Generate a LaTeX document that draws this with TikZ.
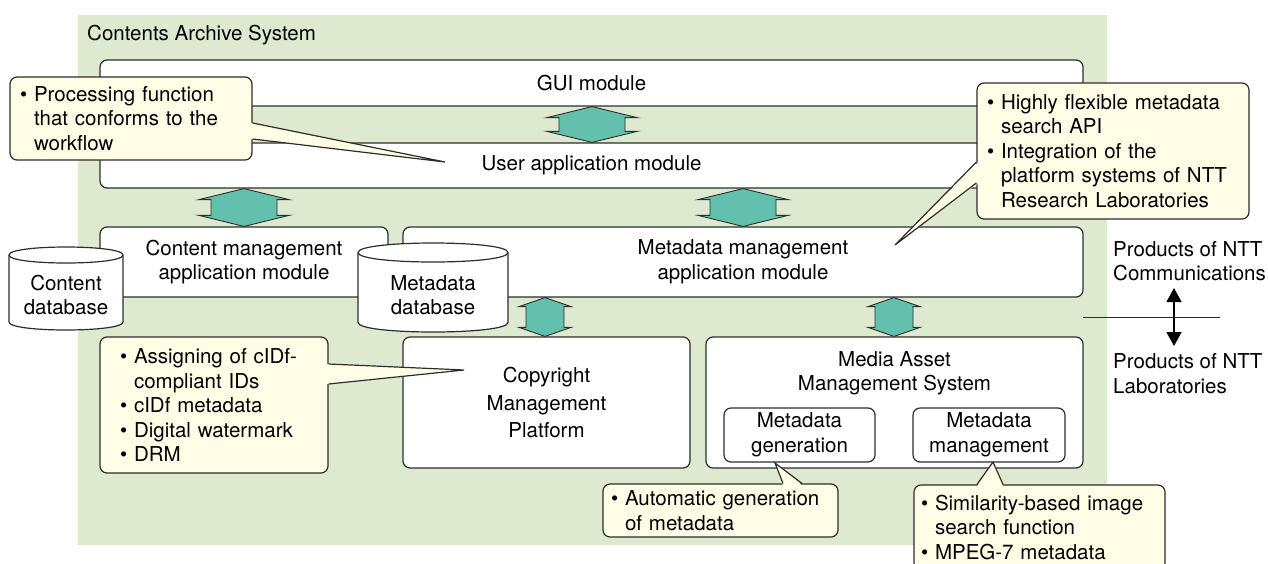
\documentclass[tikz,border=0pt]{standalone}
\usepackage{fontspec}
\setmainfont{TeX Gyre Heros}
\usetikzlibrary{calc,arrows.meta}

\definecolor{bggreen}{RGB}{221,234,208}
\definecolor{arrowteal}{RGB}{99,192,172}
\definecolor{callfill}{RGB}{255,253,230}
\definecolor{edgegray}{RGB}{45,45,45}

\newcommand\bulletitem{\textbullet\ }
\newcommand\bulletgap{\hphantom{\textbullet\ }}

% vertical double-headed block arrow: top point, bottom point,
% head half width, shaft half width, head length (all in pt)
\newcommand\blockarrow[5]{%
  \draw[blockarr] let \p1=(#1), \p2=(#2) in
    (\x1,\y1) -- ({\x1+#3pt},{\y1-#5pt}) -- ({\x1+#4pt},{\y1-#5pt})
    -- ({\x1+#4pt},{\y2+#5pt}) -- ({\x1+#3pt},{\y2+#5pt}) -- (\x1,\y2)
    -- ({\x1-#3pt},{\y2+#5pt}) -- ({\x1-#4pt},{\y2+#5pt})
    -- ({\x1-#4pt},{\y1-#5pt}) -- ({\x1-#3pt},{\y1-#5pt}) -- cycle;}

% database cylinder: left x, right x, top ellipse centre y, bottom ellipse centre y, half height of ellipse
\newcommand\dbcylinder[5]{%
  \filldraw[dbshape] (#1,#3) -- (#1,#4)
    .. controls (#1,{#4+4/3*#5}) and (#2,{#4+4/3*#5}) .. (#2,#4)
    -- (#2,#3)
    .. controls (#2,{#3-4/3*#5}) and (#1,{#3-4/3*#5}) .. (#1,#3) -- cycle;
  \draw[dbshape] (#1,#3) .. controls (#1,{#3+4/3*#5}) and (#2,{#3+4/3*#5}) .. (#2,#3);}

% speech-bubble pointer: base coordinate a, base coordinate b, tip, shift into the bubble
\newcommand\pointer[4]{%
  \fill[callfill] ([#4]#1) -- (#3) -- ([#4]#2) -- cycle;
  \draw[calledge] (#1) -- (#3) -- (#2);}

\tikzset{
  every node/.style={font=\fontsize{20.5}{24.5}\selectfont},
  box/.style={draw=edgegray, line width=1.2pt, fill=white, rounded corners=7pt,
    inner sep=0pt, align=center},
  callbox/.style={draw=edgegray, line width=1.2pt, fill=callfill, rounded corners=7pt,
    inner ysep=0pt, align=left},
  calledge/.style={draw=edgegray, line width=1.2pt, line join=miter},
  blockarr/.style={draw=edgegray, line width=0.9pt, fill=arrowteal, line join=miter},
  dbshape/.style={draw=edgegray, line width=1.2pt, fill=white},
  plain/.style={inner sep=0pt, align=left},
}

\begin{document}
\begin{tikzpicture}[x=1pt,y=-1pt]
\clip (0,0) rectangle (1268,563);
\fill[white] (0,0) rectangle (1268,563);

% system frame
\fill[bggreen] (78,15) rectangle (1107,545);
\node[plain, anchor=west] (title) at (87,35) {Contents Archive System};

% modules
\node[box, minimum width=983pt, minimum height=46pt] (gui) at (591.5,83) {GUI module};
\node[box, minimum width=983pt, minimum height=45pt] (user) at (591.5,165.5) {User application module};
\node[box, minimum width=288pt, minimum height=70pt] (cont) at (244,262)
  {Content management\\application module};
\node[box, minimum width=680pt, minimum height=70pt] (meta) at (743,262)
  {Metadata management\\application module};
\node[box, minimum width=287pt, minimum height=131pt,
  font=\fontsize{20.5}{27.5}\selectfont] (copy) at (546.5,402.5)
  {Copyright\\Management\\Platform};
\node[box, minimum width=377pt, minimum height=131pt] (mam) at (894.5,402.5) {};
\node[plain, align=center] (mamlabel) at (894.5,373.5) {Media Asset\\Management System};
\node[box, minimum width=151pt, minimum height=54pt] (mg) at (799.5,435) {Metadata\\generation};
\node[box, minimum width=152pt, minimum height=54pt] (mm) at (989,435) {Metadata\\management};

% interfaces between modules
\coordinate (ax1) at (592,0);
\coordinate (ax2) at (244,0);
\coordinate (ax3) at (743,0);
\coordinate (ax4) at (545,0);
\coordinate (ax5) at (894,0);
\blockarrow{gui.south -| ax1}{user.north -| ax1}{45}{33}{11}
\blockarrow{user.south -| ax2}{cont.north -| ax2}{45}{33}{11}
\blockarrow{user.south -| ax3}{meta.north -| ax3}{45}{33}{11}
\blockarrow{meta.south -| ax4}{copy.north -| ax4}{26}{19}{9}
\blockarrow{meta.south -| ax5}{mam.north -| ax5}{26}{19}{9}

% databases
\dbcylinder{9}{123}{255}{322}{8}
\node[plain, align=center] (cdb) at (66,295) {Content\\database};
\dbcylinder{358}{508}{252.5}{322.5}{9.5}
\node[plain, align=center] (mdb) at (433,295) {Metadata\\database};

% product boundary
\coordinate (sepL) at (1083,317);
\coordinate (sepR) at (1220,317);
\draw[edgegray, line width=1pt] (sepL) -- (sepR);
\coordinate (upT) at (1174,288);
\coordinate (dnB) at (1174,346);
\draw[black, line width=1.2pt, {Triangle[width=15pt,length=14pt]}-{Triangle[width=15pt,length=14pt]}] (upT) -- (dnB);
\node[plain, anchor=west] (comm) at (1113,261) {Products of NTT\\Communications};
\node[plain, anchor=west] (labs) at (1113,373.5) {Products of NTT\\Laboratories};

% notes
\node[callbox, minimum width=242pt, minimum height=83pt, text width=222pt, inner xsep=10pt]
  (callflow) at (131,118.5)
  {\bulletitem Processing function\\\bulletgap that conforms to the\\\bulletgap workflow};
\coordinate (fa) at ([yshift=-4.5pt]callflow.east);
\coordinate (fb) at ([yshift=-20.5pt]callflow.east);
\coordinate (tipflow) at (445,162);
\pointer{fa}{fb}{tipflow}{xshift=-2pt}

\node[callbox, minimum width=272pt, minimum height=136pt, text width=252pt, inner xsep=10pt]
  (callapi) at (1113,151)
  {\bulletitem Highly flexible metadata\\\bulletgap search API\\\bulletitem Integration of the\\\bulletgap platform systems of NTT\\\bulletgap Research Laboratories};
\coordinate (aa) at ([yshift=-11pt]callapi.west);
\coordinate (ab) at ([yshift=-32pt]callapi.west);
\coordinate (tipapi) at (895,245);
\pointer{aa}{ab}{tipapi}{xshift=2pt}

\node[callbox, minimum width=228pt, minimum height=136pt, text width=188pt, inner xsep=20pt]
  (callcopy) at (214,405)
  {\bulletitem Assigning of cIDf-\\\bulletgap compliant IDs\\\bulletitem cIDf metadata\\\bulletitem Digital~watermark\\\bulletitem DRM};
\coordinate (ca) at ([yshift=41pt]callcopy.east);
\coordinate (cb) at ([yshift=21pt]callcopy.east);
\coordinate (tipcopy) at (464,370);
\pointer{ca}{cb}{tipcopy}{xshift=-2pt}

\node[callbox, minimum width=235pt, minimum height=53pt, text width=219pt, inner xsep=8pt]
  (callgen) at (720.5,510.5)
  {\bulletitem Automatic~generation\\\bulletgap of metadata};
\coordinate (ga) at ([xshift=62.5pt]callgen.north);
\coordinate (gb) at ([xshift=81.5pt]callgen.north);
\coordinate (tipgen) at (775,463);
\pointer{ga}{gb}{tipgen}{yshift=-2pt}

\node[callbox, minimum width=251pt, minimum height=85pt, text width=237pt, inner xsep=7pt]
  (callsim) at (1039.5,527.5)
  {\bulletitem Similarity-based~image\\\bulletgap search function\\\bulletitem MPEG-7 metadata};
\coordinate (sa) at ([xshift=-62.5pt]callsim.north);
\coordinate (sb) at ([xshift=-36.5pt]callsim.north);
\coordinate (tipsim) at (993,462);
\pointer{sa}{sb}{tipsim}{yshift=-2pt}
\end{tikzpicture}
\end{document}
